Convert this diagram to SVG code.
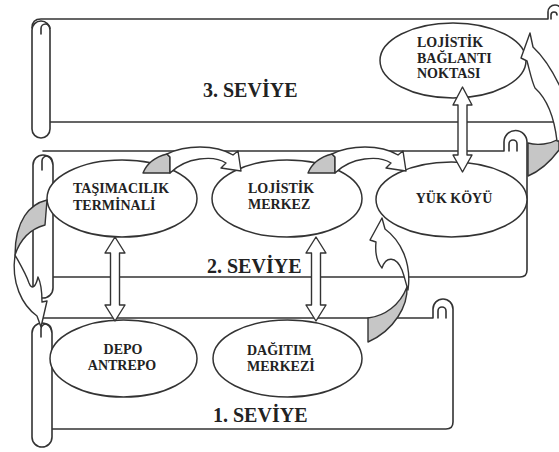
<svg xmlns="http://www.w3.org/2000/svg" width="559" height="452" viewBox="0 0 559 452">
<style>
.ln{fill:none;stroke:#333;stroke-width:1.6;stroke-linejoin:round;stroke-linecap:round}
.cyl{fill:#fff;stroke:#333;stroke-width:1.6}
.el{fill:#fff;stroke:#333;stroke-width:1.5}
.wa{fill:#fff;stroke:#333;stroke-width:1.4;stroke-linejoin:round}
.ga{fill:#c6c6c6;stroke:#333;stroke-width:1.4;stroke-linejoin:round}
.t{font-family:"Liberation Serif","Times New Roman",serif;font-weight:bold;font-size:14px;fill:#222}
.lv{font-family:"Liberation Serif","Times New Roman",serif;font-weight:bold;font-size:20px;fill:#222}
</style>
<rect width="559" height="452" fill="#fff"/>

<g id="level3">
<path class="ln" d="M32,28 Q32,19 41,19 H548 V12 A7,7 0 0 1 562,12"/>
<path class="ln" d="M551,19 V15 A3,3 0 1 1 557,15"/>
<path class="ln" d="M50,122 H559"/>
<rect class="cyl" x="32" y="21" width="18" height="117" rx="9"/>
<path class="ln" d="M41,34 V28.5 A4.5,4.5 0 1 1 50,28.5"/>
<text class="lv" x="203" y="97">3. SEVİYE</text>
</g>

<g id="level2">
<path class="ln" d="M43,151 H504 V142 A11.5,11.5 0 0 1 527,142 V270 Q527,277 520,277 H53"/>
<path class="ln" d="M509,151 V144 A4,4 0 1 1 517,144 V151"/>
<rect class="cyl" x="33" y="155" width="20" height="143" rx="10"/>
<path class="ln" d="M42,170 V161 A5,5 0 1 1 52,161"/>
<text class="lv" x="207" y="273">2. SEVİYE</text>
</g>

<g id="level1">
<path class="ln" d="M42,318 H433 V309 A10,10 0 0 1 453,309 V422 Q453,429 446,429 H52"/>
<path class="ln" d="M438,318 V311 A4,4 0 1 1 446,311 V318"/>
<rect class="cyl" x="32" y="323" width="20" height="124" rx="10"/>
<path class="ln" d="M41,337 V329 A5,5 0 1 1 51,329"/>
<text class="lv" x="213" y="422">1. SEVİYE</text>
</g>

<g id="node-baglanti">
<ellipse class="el" cx="453" cy="60.5" rx="73" ry="37.5"/>
<text class="t" x="417" y="47">LOJİSTİK</text>
<text class="t" x="417" y="63">BAĞLANTI</text>
<text class="t" x="417" y="78">NOKTASI</text>
</g>

<g id="node-tasimacilik">
<ellipse class="el" cx="122" cy="198.5" rx="75" ry="38.5"/>
<text class="t" x="73" y="193">TAŞIMACILIK</text>
<text class="t" x="73" y="210">TERMİNALİ</text>
</g>

<g id="node-lojistik-merkez">
<ellipse class="el" cx="287" cy="198.5" rx="75" ry="38.5"/>
<text class="t" x="248" y="193">LOJİSTİK</text>
<text class="t" x="248" y="209">MERKEZ</text>
</g>

<g id="node-yuk-koyu">
<ellipse class="el" cx="451.5" cy="199.5" rx="75.5" ry="37.5"/>
<text class="t" x="454" y="203" text-anchor="middle">YÜK KÖYÜ</text>
</g>

<g id="node-depo">
<ellipse class="el" cx="123.5" cy="358.5" rx="73.5" ry="38.5"/>
<text class="t" x="123" y="354" text-anchor="middle">DEPO</text>
<text class="t" x="122" y="370" text-anchor="middle">ANTREPO</text>
</g>

<g id="node-dagitim">
<ellipse class="el" cx="287.5" cy="358.5" rx="74.5" ry="38.5"/>
<text class="t" x="247" y="355">DAĞITIM</text>
<text class="t" x="247" y="371">MERKEZİ</text>
</g>

<g id="connectors">
<path class="wa" d="M115,237 L125,253 L119.5,253 L119.5,305 L125,305 L115,321 L105,305 L110.5,305 L110.5,253 L105,253 Z"/>
<path class="wa" d="M316,237 L326,253 L320.5,253 L320.5,305 L326,305 L316,321 L306,305 L311.5,305 L311.5,253 L306,253 Z"/>
<path class="wa" d="M462.5,87 L472,105 L467,105 L467,155 L472,155 L462.5,172 L453,155 L458,155 L458,105 L453,105 Z"/>

<g id="arrow-a">
<path class="ga" d="M143,173 C147,163 155,157 167,154 L170,157 L170,173 Z"/>
<path class="wa" d="M167,154 C185,145 215,144 233,155 L238,151 L241,171 L221,168 L226,163 C214,155 186,157 170,173 L170,157 Z"/>
</g>
<g id="arrow-b" transform="translate(165,0)">
<path class="ga" d="M143,173 C147,163 155,157 167,154 L170,157 L170,173 Z"/>
<path class="wa" d="M167,154 C185,145 215,144 233,155 L238,151 L241,171 L221,168 L226,163 C214,155 186,157 170,173 L170,157 Z"/>
</g>
<g id="arrow-c">
<path class="ga" d="M47,200 C30,204 15,220 15,255 C20,240 30,229 45,225 Z"/>
<path class="wa" d="M15,255 C11,283 22,305 37,316 L41,327 L47,301 L42,302 C42,292 41,283 38,277 C36,286 32,291 29,283 C26,274 20,264 15,255 Z"/>
</g>
<g id="arrow-d">
<path class="ga" d="M368,318 C385,316 400,305 407,287 C408,305 395,330 368,342 Z"/>
<path class="wa" d="M408,290 C412,262 400,240 385,229 L382,218 L370,240 L376,242 C375,252 377,262 382,268 C386,256 396,256 402,270 C405,278 406,284 408,290 Z"/>
</g>
<g id="arrow-e">
<path class="ga" d="M528,143 C538,146 550,144 559,139 L559,150 C550,162 540,171 528,176 Z"/>
<path class="wa" d="M533,47 L530,33 L521,58 L527,61 C530,72 532,82 535,88 C546,98 554,115 557,141 L566,141 L566,100 C556,76 545,58 533,47 Z"/>
</g>
</g>
</svg>
